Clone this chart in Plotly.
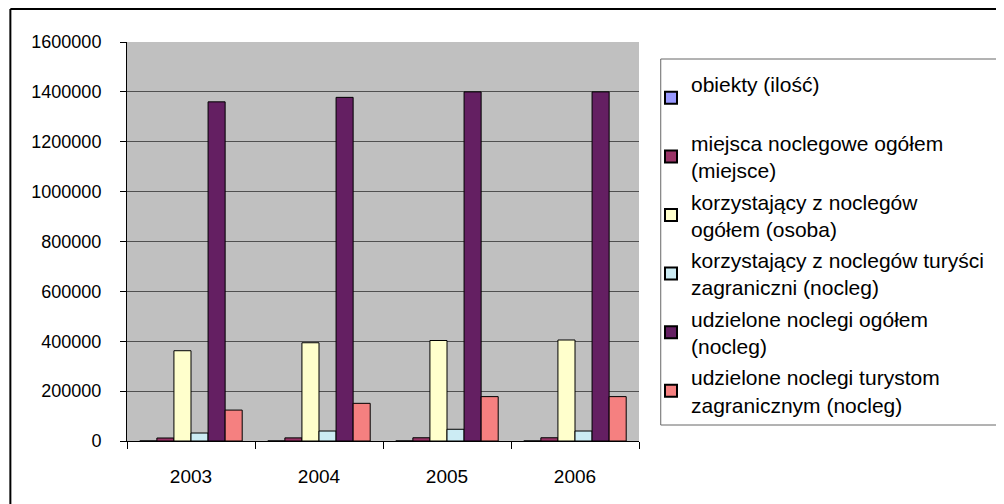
import plotly.graph_objects as go

years = ["2003", "2004", "2005", "2006"]
series_names = [
    "obiekty (ilość)<br> ",
    "miejsca noclegowe ogółem<br>(miejsce)",
    "korzystający z noclegów<br>ogółem (osoba)",
    "korzystający z noclegów turyści<br>zagraniczni (nocleg)",
    "udzielone noclegi ogółem<br>(nocleg)",
    "udzielone noclegi turystom<br>zagranicznym (nocleg)",
]
obiekty = [180, 185, 190, 195]
miejsca = [12000, 12500, 13000, 13000]
korzystajacy_ogolem = [362000, 394000, 403000, 405000]
korzystajacy_zagr = [32000, 40000, 47000, 40000]
udzielone_ogolem = [1360000, 1378000, 1400000, 1400000]
udzielone_zagr = [124000, 151000, 178000, 178000]
y_ticks = [0, 200000, 400000, 600000, 800000, 1000000, 1200000, 1400000, 1600000]

values = [obiekty, miejsca, korzystajacy_ogolem, korzystajacy_zagr, udzielone_ogolem, udzielone_zagr]
colors = ["#9999FF", "#993366", "#FFFFCC", "#CCECF4", "#641F62", "#F58080"]

# the page body adds an 8px offset; geometry below is in figure pixels
OFF = 8
W, H = 1004 - OFF, 504 - OFF
PL, PR, PT, PB = 127 - OFF, 645 - OFF, 42 - OFF, 441 - OFF


def px_x(sx):
    return (sx - OFF - PL) / (PR - PL)


def px_y(sy):
    return (PB - (sy - OFF)) / (PB - PT)


fig = go.Figure()
for i, (name, vals, col) in enumerate(zip(series_names, values, colors)):
    fig.add_trace(go.Bar(
        x=years, y=vals, name=name, marker_color=col,
        marker_line_color="#000000", marker_line_width=1,
        legendgroup=f"g{i}",
    ))

fig.update_layout(
    width=W, height=H,
    margin=dict(l=PL, r=W - PR, t=PT, b=H - PB),
    paper_bgcolor="white",
    plot_bgcolor="#C0C0C0",
    barmode="group",
    bargap=0.2,
    bargroupgap=0,
    font=dict(family="Liberation Sans, Arial, sans-serif", color="#000000", size=19),
    showlegend=True,
    legend=dict(
        xref="container", yref="container",
        x=(651 - OFF) / W, y=1 - (64 - OFF) / H, xanchor="left", yanchor="top",
        font=dict(size=21),
        bgcolor="rgba(0,0,0,0)",
        borderwidth=0,
        tracegroupgap=1,
        itemsizing="constant",
        maxheight=480,
    ),
    xaxis=dict(
        showgrid=False, ticks="outside", tickson="boundaries", ticklen=7,
        tickcolor="#000000", showline=True, linecolor="#000000", linewidth=1,
        tickfont=dict(size=19), ticklabelstandoff=18,
    ),
    yaxis=dict(
        range=[0, 1600000], tickvals=y_ticks, ticktext=[str(v) for v in y_ticks],
        showgrid=True, gridcolor="#505050", gridwidth=1,
        ticks="outside", ticklen=6, tickcolor="#000000",
        showline=True, linecolor="#000000", linewidth=1,
        zeroline=False, tickfont=dict(size=18), ticklabelstandoff=15,
    ),
    shapes=[
        dict(type="line", xref="paper", yref="paper",
             x0=px_x(9), x1=px_x(1015), y0=px_y(9), y1=px_y(9),
             line=dict(color="#000000", width=2)),
        dict(type="line", xref="paper", yref="paper",
             x0=px_x(9), x1=px_x(9), y0=px_y(9), y1=px_y(515),
             line=dict(color="#000000", width=2)),
        dict(type="rect", xref="paper", yref="paper",
             x0=px_x(667), x1=px_x(1015), y0=px_y(59), y1=px_y(425),
             line=dict(color="#666666", width=1), fillcolor="rgba(0,0,0,0)"),
    ],
)

fig.write_html("out.html")
